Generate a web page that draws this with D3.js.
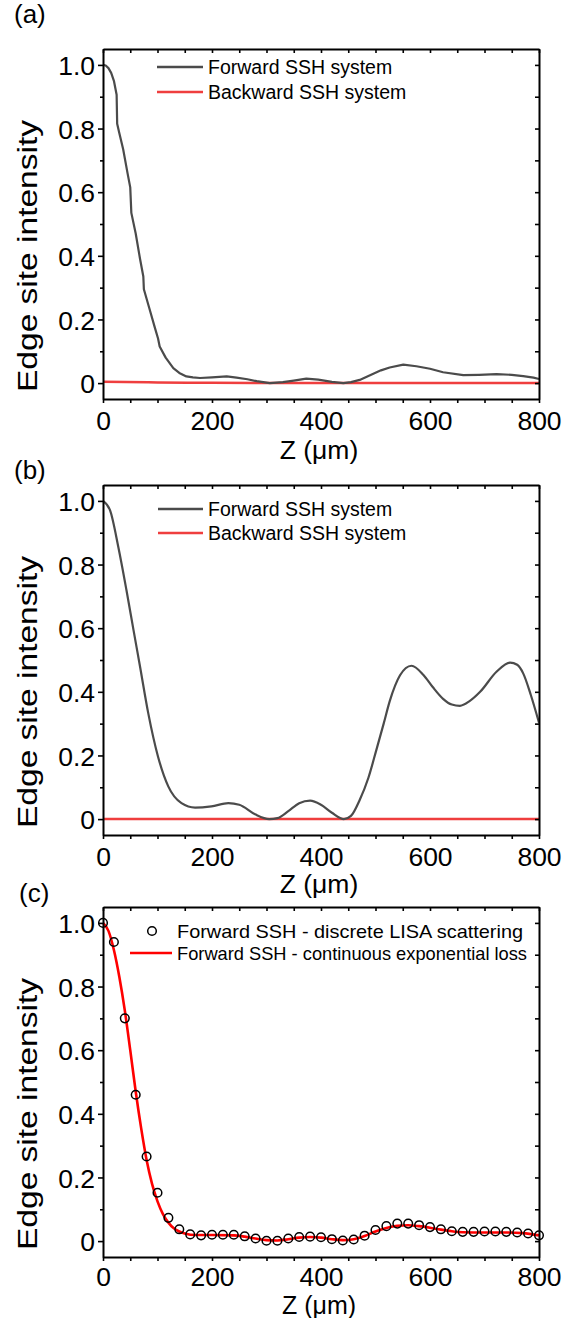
<!DOCTYPE html>
<html>
<head>
<meta charset="utf-8">
<script src="https://cdn.jsdelivr.net/npm/d3@7/dist/d3.min.js"></script>
<style>
  body { margin: 0; background: #fff; }
  svg { font-family: "Liberation Sans", Arial, sans-serif; }
</style>
</head>
<body>
<svg id="chart" width="572" height="1318"></svg>
<script>
// ---- data ----
const xTicks = [0, 50, 100, 150, 200, 250, 300, 350, 400, 450, 500, 550, 600, 650, 700, 750, 800];
const xLabels = [0, 200, 400, 600, 800];
const yTicks = [0, 0.1, 0.2, 0.3, 0.4, 0.5, 0.6, 0.7, 0.8, 0.9, 1.0];
const yLabels = ["0", "0.2", "0.4", "0.6", "0.8", "1.0"];

// (a) forward, discrete steps
const zA = [0, 5, 10, 15, 20, 25, 26, 30, 37, 45, 50, 52, 60, 68, 74, 75, 85, 95, 101, 104, 115, 129, 140, 153, 165, 178, 200, 227, 245, 265, 282, 306, 330, 350, 373, 395, 420, 441, 455, 471, 490, 510, 526, 551, 575, 600, 624, 661, 690, 722, 750, 771, 790, 800];
const forwardA = [1.0, 0.998, 0.99, 0.975, 0.95, 0.906, 0.815, 0.785, 0.735, 0.66, 0.615, 0.535, 0.47, 0.39, 0.335, 0.295, 0.235, 0.175, 0.14, 0.115, 0.08, 0.047, 0.032, 0.021, 0.018, 0.016, 0.018, 0.021, 0.017, 0.012, 0.006, 0.0, 0.003, 0.008, 0.014, 0.011, 0.004, 0.0, 0.003, 0.01, 0.025, 0.04, 0.049, 0.058, 0.053, 0.045, 0.034, 0.025, 0.026, 0.028, 0.026, 0.022, 0.017, 0.013];
const zBackA = [0, 100, 200, 300, 800];
const backwardA = [0.004, 0.002, 0.001, 0, 0];

// (b) forward, lossless
const zB = [0, 13, 28, 43, 56, 68, 83, 101, 120, 144, 169, 199, 230, 250, 279, 305, 320, 340, 360, 380, 400, 420, 442, 455, 471, 487, 502, 515, 526, 545, 566, 588, 605, 624, 640, 655, 672, 692, 722, 747, 760, 771, 785, 800];
const forwardB = [1.0, 0.97, 0.856, 0.72, 0.594, 0.479, 0.333, 0.196, 0.102, 0.05, 0.036, 0.04, 0.05, 0.045, 0.015, 0.0, 0.003, 0.025, 0.05, 0.058, 0.045, 0.02, 0.0, 0.01, 0.06, 0.13, 0.22, 0.3, 0.37, 0.452, 0.482, 0.453, 0.415, 0.378, 0.36, 0.356, 0.37, 0.4, 0.463, 0.492, 0.485, 0.458, 0.39, 0.303];
const zBackB = [0, 800];
const backwardB = [0, 0];

// (c) discrete LISA scattering (circles) and continuous loss (line)
const zC = [0, 20, 40, 60, 80, 100, 120, 140, 160, 180, 200, 220, 240, 260, 280, 300, 320, 340, 360, 380, 400, 420, 440, 460, 480, 500, 520, 540, 560, 580, 600, 620, 640, 660, 680, 700, 720, 740, 760, 780, 800];
const discreteC = [1.0, 0.94, 0.70, 0.46, 0.266, 0.152, 0.073, 0.037, 0.021, 0.018, 0.02, 0.02, 0.02, 0.015, 0.008, 0.001, 0.001, 0.008, 0.013, 0.014, 0.012, 0.006, 0.002, 0.005, 0.017, 0.035, 0.047, 0.055, 0.055, 0.05, 0.044, 0.037, 0.031, 0.029, 0.029, 0.03, 0.03, 0.029, 0.027, 0.024, 0.018];
const zLine = [0, 10, 20, 30, 40, 50, 60, 70, 80, 90, 100, 110, 120, 130, 140, 150, 170, 200, 240, 260, 280, 300, 320, 340, 360, 380, 400, 420, 440, 460, 480, 500, 520, 540, 560, 580, 600, 620, 640, 660, 700, 740, 770, 800];
const continuousC = [1.0, 0.975, 0.915, 0.83, 0.725, 0.6, 0.47, 0.355, 0.255, 0.18, 0.125, 0.085, 0.058, 0.04, 0.03, 0.024, 0.019, 0.019, 0.018, 0.014, 0.008, 0.003, 0.002, 0.006, 0.011, 0.013, 0.011, 0.006, 0.003, 0.006, 0.016, 0.03, 0.041, 0.048, 0.05, 0.047, 0.042, 0.036, 0.031, 0.028, 0.027, 0.027, 0.025, 0.018];

// ---- layout ----
const left = 103, right = 539, plotH = 350;
const tops = [49, 485, 907];
const xTitleOffset = [60, 58, 56.5];
const xTitleSize = [26.5, 26.5, 25];
const xTickPad = [8, 8, 6];
const grey = "#4b4b4b", pink = "#ef3e3e", red = "#ff0000";

const svg = d3.select("#chart");
const x = d3.scaleLinear().domain([0, 800]).range([0, right - left]);
const y = d3.scaleLinear().domain([-0.05, 1.05]).range([plotH, 0]);

const isMajorY = d => Math.abs(d * 10 % 2) < 1e-6 || Math.abs(d * 10 % 2 - 2) < 1e-6;

function frame(g, panel) {
  const w = right - left;
  const bottom = g.append("g")
    .attr("transform", `translate(0,${plotH})`)
    .call(d3.axisBottom(x).tickValues(xTicks).tickSize(4).tickSizeOuter(0).tickPadding(xTickPad[panel])
      .tickFormat(d => xLabels.includes(d) ? d : ""));
  const top = g.append("g")
    .call(d3.axisTop(x).tickValues(xTicks).tickSize(-4).tickSizeOuter(0).tickFormat(""));
  const leftAx = g.append("g")
    .call(d3.axisLeft(y).tickValues(yTicks).tickSize(5).tickSizeOuter(0).tickPadding(3)
      .tickFormat(d => isMajorY(d) ? yLabels[Math.round(d * 5)] : ""));
  const rightAx = g.append("g")
    .attr("transform", `translate(${w},0)`)
    .call(d3.axisRight(y).tickValues(yTicks).tickSize(-4).tickSizeOuter(0).tickFormat(""));

  leftAx.selectAll(".tick line").attr("x2", d => isMajorY(d) ? -5 : -3);

  [bottom, top, leftAx, rightAx].forEach(a => {
    a.attr("font-family", null).attr("font-size", null);
    a.select(".domain").attr("stroke-width", 2);
    a.selectAll(".tick line").attr("stroke-width", 1.6);
    a.selectAll("text").style("font-size", "26.5px").attr("fill", "#000");
  });
  bottom.selectAll("text").attr("dy", "0.7em");
  leftAx.selectAll("text").attr("dy", "0.36em");

  g.append("text")
    .attr("x", w / 2 - 2).attr("y", plotH + xTitleOffset[panel])
    .attr("text-anchor", "middle")
    .style("font-size", xTitleSize[panel] + "px")
    .text("Z (\u03bcm)");

  g.append("text")
    .attr("transform", `translate(${37 - left},${plotH / 2 + 32}) rotate(-90)`)
    .attr("text-anchor", "middle")
    .attr("textLength", 272)
    .attr("lengthAdjust", "spacingAndGlyphs")
    .style("font-size", "27px")
    .text("Edge site intensity");
}

function series(g, zs, vs, color, width, curve) {
  g.append("path")
    .datum(zs.map((z, i) => [z, vs[i]]))
    .attr("fill", "none")
    .attr("stroke", color)
    .attr("stroke-width", width)
    .attr("stroke-linejoin", "round")
    .attr("d", d3.line().x(d => x(d[0])).y(d => y(d[1])).curve(curve));
}

function legendLine(g, x1, x2, yy, color, width) {
  g.append("line").attr("x1", x1 - left).attr("x2", x2 - left)
    .attr("y1", yy).attr("y2", yy)
    .attr("stroke", color).attr("stroke-width", width);
}

function legendText(g, tx, yy, label, size, len) {
  const t = g.append("text").attr("x", tx - left).attr("y", yy + 7)
    .style("font-size", size + "px").text(label);
  if (len) t.attr("textLength", len).attr("lengthAdjust", "spacingAndGlyphs");
}

const panelLabels = [["(a)", 14, 23], ["(b)", 14, 479], ["(c)", 19, 902]];
panelLabels.forEach(([t, px, py]) => {
  svg.append("text").attr("x", px).attr("y", py).style("font-size", "26px").text(t);
});

// (a)
const gA = svg.append("g").attr("transform", `translate(${left},${tops[0]})`);
series(gA, zBackA, backwardA, pink, 2.5, d3.curveMonotoneX);
series(gA, zA, forwardA, grey, 2.2, d3.curveLinear);
frame(gA, 0);
legendLine(gA, 157, 203, 67 - tops[0], grey, 2.5);
legendText(gA, 208, 67 - tops[0], "Forward SSH system", 19.5);
legendLine(gA, 157, 203, 92 - tops[0], pink, 2.5);
legendText(gA, 208, 92 - tops[0], "Backward SSH system", 19.5);

// (b)
const gB = svg.append("g").attr("transform", `translate(${left},${tops[1]})`);
series(gB, zBackB, backwardB, pink, 2.5, d3.curveLinear);
series(gB, zB, forwardB, grey, 2.2, d3.curveMonotoneX);
frame(gB, 1);
legendLine(gB, 158, 203, 509 - tops[1], grey, 2.5);
legendText(gB, 208, 509 - tops[1], "Forward SSH system", 19.5);
legendLine(gB, 158, 203, 533 - tops[1], pink, 2.5);
legendText(gB, 208, 533 - tops[1], "Backward SSH system", 19.5);

// (c)
const gC = svg.append("g").attr("transform", `translate(${left},${tops[2]})`);
series(gC, zLine, continuousC, red, 2.6, d3.curveMonotoneX);
gC.append("g").selectAll("circle")
  .data(zC.map((z, i) => [z, discreteC[i]]))
  .join("circle")
  .attr("cx", d => x(d[0])).attr("cy", d => y(d[1])).attr("r", 4.3)
  .attr("fill", "none").attr("stroke", "#000").attr("stroke-width", 1.5);
frame(gC, 2);
gC.append("circle").attr("cx", 152 - left).attr("cy", 931 - tops[2]).attr("r", 4.3)
  .attr("fill", "none").attr("stroke", "#000").attr("stroke-width", 1.5);
legendText(gC, 177, 931 - tops[2], "Forward SSH - discrete LISA scattering", 19, 346);
legendLine(gC, 130, 172, 953 - tops[2], red, 2.6);
legendText(gC, 177, 953 - tops[2], "Forward SSH - continuous exponential loss", 19, 350);
</script>
</body>
</html>
